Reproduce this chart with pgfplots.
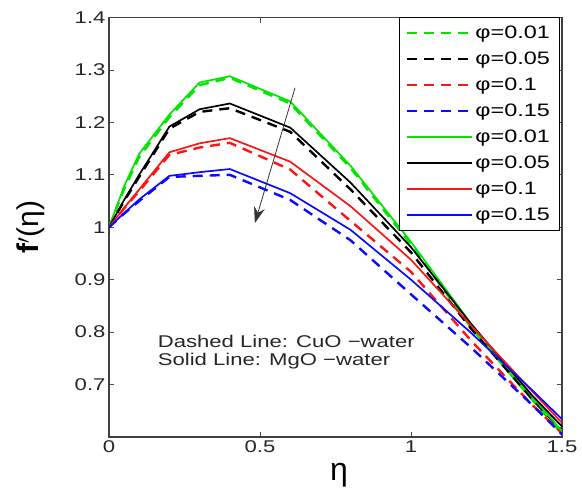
\documentclass[border=0pt]{standalone}
\usepackage{pgfplots}
\pgfplotsset{compat=1.18}
\usepackage{pgfplotstable}
\usepackage{fontspec}
\setmainfont{Liberation Sans}
\usetikzlibrary{arrows.meta}
\newcommand\sx[1]{\scalebox{1.3}[1.0]{#1}}
\newcommand\tl[1]{{\fontsize{17}{20}\selectfont\scalebox{1.3}[1.0]{#1}}}
\definecolor{mgreen}{RGB}{0,230,0}
\definecolor{mred}{RGB}{255,20,20}
\definecolor{mblue}{RGB}{10,10,255}
\pgfplotstableread{
eta  GS    GD    KS    KD    RS    RD    BS    BD
0.0  1.000 1.000 1.000 1.000 1.000 1.000 1.000 1.000
0.05 1.078 1.073 1.052 1.050 1.037 1.036 1.027 1.026
0.1  1.140 1.134 1.100 1.096 1.072 1.069 1.053 1.050
0.2  1.215 1.210 1.192 1.188 1.143 1.138 1.098 1.096
0.3  1.276 1.271 1.225 1.220 1.160 1.152 1.105 1.098
0.4  1.288 1.285 1.236 1.227 1.170 1.161 1.111 1.100
0.6  1.240 1.236 1.190 1.182 1.125 1.110 1.065 1.052
0.8  1.117 1.113 1.085 1.072 1.040 1.012 0.995 0.975
1.0  0.972 0.967 0.962 0.952 0.938 0.915 0.900 0.872
1.2  0.815 0.808 0.815 0.806 0.812 0.783 0.798 0.770
1.4  0.678 0.672 0.680 0.673 0.688 0.662 0.690 0.662
1.5  0.611 0.606 0.620 0.612 0.627 0.607 0.634 0.605
}\data
\begin{document}
\begin{tikzpicture}
\begin{axis}[name=ax, scale only axis, width=453pt, height=419.5pt,
  xmin=0, xmax=1.5, ymin=0.6, ymax=1.4,
  xtick={0,0.5,1,1.5}, xticklabels={\tl{0},\tl{0.5},\tl{1},\tl{1.5}},
  ytick={0.7,0.8,0.9,1,1.1,1.2,1.3,1.4},
  yticklabels={\tl{0.7},\tl{0.8},\tl{0.9},\tl{1},\tl{1.1},\tl{1.2},\tl{1.3},\tl{1.4}},
  tick align=inside, major tick length=5pt,
  axis line style={line width=1.2pt, draw=black!75},
  tick style={line width=0.8pt, draw=black!70},
  every tick label/.append style={text=black!85},
  xlabel={η}, ylabel={\textbf{f}$^\prime$(η)},
  xlabel style={at={(axis description cs:0.508,-0.09)}, anchor=center, font=\fontsize{32}{36}\selectfont},
  ylabel style={at={(axis description cs:-0.172,0.5)}, anchor=center, font=\fontsize{30}{34}\selectfont},
  legend style={at={(0.9934,1)}, anchor=north east,
    font=\fontsize{18}{21}\selectfont, row sep=8pt, inner xsep=7pt, inner ysep=6pt, cells={anchor=west}},
  legend image code/.code={\draw[#1] (0pt,0pt) -- (65pt,0pt);},
  dsh/.style={line width=2.4pt, dash pattern=on 10pt off 7pt},
  sld/.style={line width=1.7pt},
]
\addplot[mgreen, dsh] table[x=eta,y=GD]{\data};
\addlegendentry{\sx{φ=0.01}}
\addplot[black, dsh] table[x=eta,y=KD]{\data};
\addlegendentry{\sx{φ=0.05}}
\addplot[mred, dsh] table[x=eta,y=RD]{\data};
\addlegendentry{\sx{φ=0.1}}
\addplot[mblue, dsh] table[x=eta,y=BD]{\data};
\addlegendentry{\sx{φ=0.15}}
\addplot[mgreen, sld] table[x=eta,y=GS]{\data};
\addlegendentry{\sx{φ=0.01}}
\addplot[black, sld] table[x=eta,y=KS]{\data};
\addlegendentry{\sx{φ=0.05}}
\addplot[mred, sld] table[x=eta,y=RS]{\data};
\addlegendentry{\sx{φ=0.1}}
\addplot[mblue, sld] table[x=eta,y=BS]{\data};
\addlegendentry{\sx{φ=0.15}}
\draw[-{Stealth[length=16pt,width=11pt]}, line width=0.8pt, black!80] (axis cs:0.616,1.266) -- (axis cs:0.483,1.008);
\node[anchor=west, font=\fontsize{17}{20}\selectfont, text=black!85] at (axis cs:0.15,0.783) {\sx{Dashed Line: CuO −water}};
\node[anchor=west, font=\fontsize{17}{20}\selectfont, text=black!85] at (axis cs:0.15,0.745) {\sx{Solid Line: MgO −water}};
\end{axis}
\pgfresetboundingbox
\path ([xshift=-109pt,yshift=-58pt]ax.south west) rectangle ([xshift=20pt,yshift=17.5pt]ax.north east);
\end{tikzpicture}
\end{document}
